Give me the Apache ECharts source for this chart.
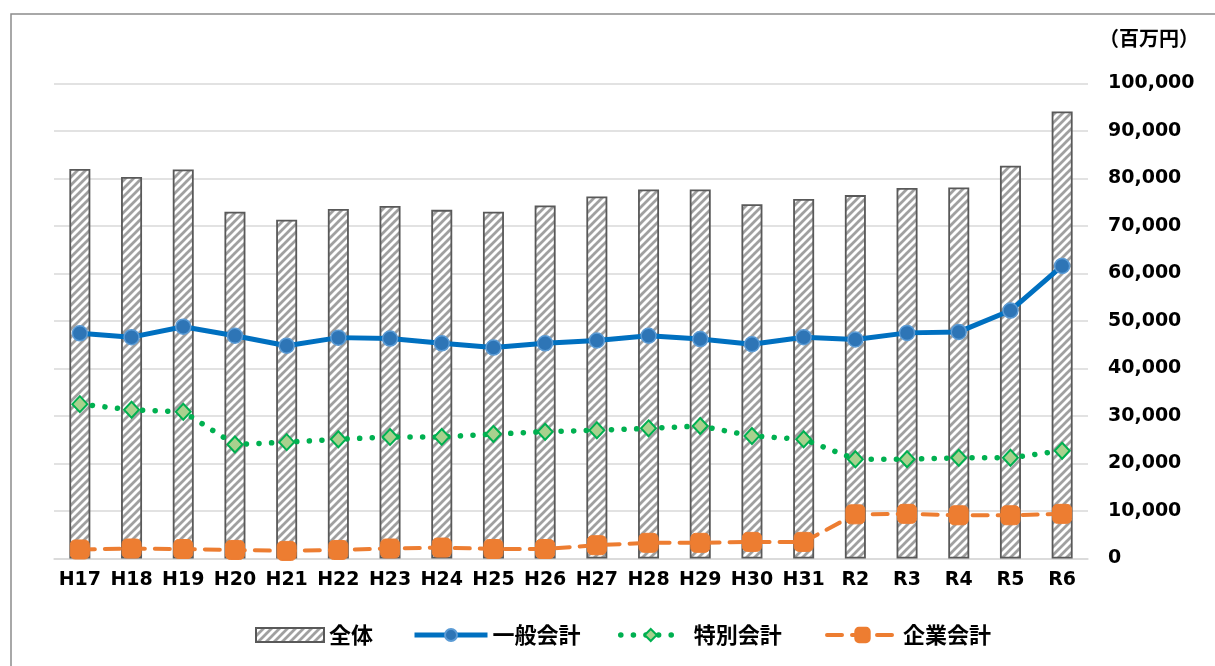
<!DOCTYPE html>
<html>
<head>
<meta charset="utf-8">
<script src="https://cdn.jsdelivr.net/npm/echarts@6/dist/echarts.min.js"></script>
<style>
  html, body { margin: 0; padding: 0; background: #ffffff; }
  #chart { width: 1215px; height: 666px; }
</style>
</head>
<body>
<div id="chart"></div>
<script>
// 年度
const categories = ['H17','H18','H19','H20','H21','H22','H23','H24','H25','H26','H27','H28','H29','H30','H31','R2','R3','R4','R5','R6'];
// 全体（百万円）
const totalValues   = [82000, 80300, 81900, 73000, 71300, 73600, 74200, 73400, 73000, 74300, 76200, 77700, 77700, 74600, 75700, 76500, 78000, 78100, 82700, 94100];
// 一般会計
const generalValues = [47400, 46600, 48800, 46900, 44800, 46500, 46300, 45300, 44400, 45300, 45900, 46900, 46200, 45100, 46600, 46100, 47500, 47700, 52200, 61600];
// 特別会計
const specialValues = [32500, 31300, 30900, 24000, 24500, 25100, 25600, 25600, 26200, 26700, 27000, 27400, 27900, 25800, 25100, 20900, 20900, 21200, 21200, 22700];
// 企業会計
const enterpriseValues = [1900, 2100, 2000, 1800, 1600, 1800, 2100, 2300, 2000, 2000, 2800, 3300, 3300, 3500, 3500, 9300, 9400, 9100, 9100, 9400];

const seriesNames = ['全体', '一般会計', '特別会計', '企業会計'];
const unitLabel = '（百万円）';

// diagonal hatch fill for the total bars
function makeHatch() {
  const s = 8;
  const c = document.createElement('canvas');
  c.width = s; c.height = s;
  const g = c.getContext('2d');
  g.fillStyle = '#ffffff';
  g.fillRect(0, 0, s, s);
  g.strokeStyle = '#a0a0a0';
  g.lineWidth = 2.8;
  g.lineCap = 'square';
  g.beginPath();
  g.moveTo(-2, s + 2); g.lineTo(s + 2, -2);
  g.moveTo(-2, 2); g.lineTo(2, -2);
  g.moveTo(s - 2, s + 2); g.lineTo(s + 2, s - 2);
  g.stroke();
  return c;
}
const hatch = { image: makeHatch(), repeat: 'repeat' };

const labelFont = 'DejaVu Sans';
const cjkFont = '"Noto Sans CJK JP", sans-serif';

const chart = echarts.init(document.getElementById('chart'), null, { renderer: 'canvas' });

// one legend block per series so each entry sits where it belongs
function legendAt(name, left, w, h, gap, extra) {
  return Object.assign({
    data: [name],
    left: left,
    top: 619,
    itemWidth: w,
    itemHeight: h,
    itemGap: 0,
    textStyle: { fontFamily: cjkFont, fontSize: 22, fontWeight: 'bold', color: '#000000', padding: [0, 0, 0, gap], lineHeight: 22 },
    selectedMode: false
  }, extra || {});
}

chart.setOption({
  animation: false,
  backgroundColor: '#ffffff',
  graphic: [
    {
      type: 'rect',
      shape: { x: 11, y: 14, width: 1400, height: 900 },
      style: { fill: 'none', stroke: '#8c8c8c', lineWidth: 1.5 },
      silent: true
    },
    {
      type: 'text',
      left: 1099,
      top: 28,
      style: { text: unitLabel, font: 'bold 20px "Noto Sans CJK JP", sans-serif', fill: '#000000' }
    }
  ],
  legend: [
    legendAt(seriesNames[0], 250, 68, 14, 0, { icon: 'rect' }),
    legendAt(seriesNames[1], 407, 73, 15, 0, { lineStyle: { width: 5 } }),
    legendAt(seriesNames[2], 613, 60, 15, 8, { lineStyle: { width: 5.5 } }),
    legendAt(seriesNames[3], 820, 71, 18, 0, { lineStyle: { width: 4 } })
  ],
  grid: { left: 54, right: 127, top: 83.5, bottom: 107.5 },
  xAxis: {
    type: 'category',
    data: categories,
    axisTick: { show: false },
    axisLine: { lineStyle: { color: '#d9d9d9', width: 1.5 } },
    axisLabel: { fontFamily: labelFont, fontSize: 19, fontWeight: 'bold', color: '#000000', margin: 12, interval: 0 }
  },
  yAxis: {
    type: 'value',
    position: 'right',
    min: 0,
    max: 100000,
    interval: 10000,
    axisLine: { show: false },
    axisTick: { show: false },
    splitLine: { lineStyle: { color: '#d9d9d9', width: 1.5 } },
    axisLabel: {
      fontFamily: labelFont, fontSize: 19, fontWeight: 'bold', color: '#000000', margin: 20, align: 'left',
      formatter: v => v.toLocaleString('en-US')
    }
  },
  series: [
    {
      name: seriesNames[0],
      type: 'bar',
      data: totalValues,
      barWidth: 21,
      itemStyle: { color: hatch, borderColor: '#595959', borderWidth: 1.8 },
      z: 1
    },
    {
      name: seriesNames[1],
      type: 'line',
      data: generalValues,
      symbol: 'circle',
      symbolSize: 15,
      lineStyle: { color: '#0070c0', width: 5 },
      itemStyle: { color: '#2e75b6', borderColor: '#5b9bd5', borderWidth: 1.5 },
      z: 4
    },
    {
      name: seriesNames[2],
      type: 'line',
      data: specialValues,
      symbol: 'diamond',
      symbolSize: [15, 16],
      lineStyle: { color: '#00b050', width: 5.5, type: [0.1, 12.5], cap: 'round' },
      itemStyle: { color: '#a9d18e', borderColor: '#00b050', borderWidth: 2 },
      z: 3
    },
    {
      name: seriesNames[3],
      type: 'line',
      data: enterpriseValues,
      symbol: 'roundRect',
      symbolSize: 19,
      lineStyle: { color: '#ed7d31', width: 4, type: [15, 10], cap: 'round' },
      itemStyle: { color: '#ed7d31', borderColor: '#ed7d31', borderWidth: 1 },
      z: 2
    }
  ]
});
</script>
</body>
</html>
